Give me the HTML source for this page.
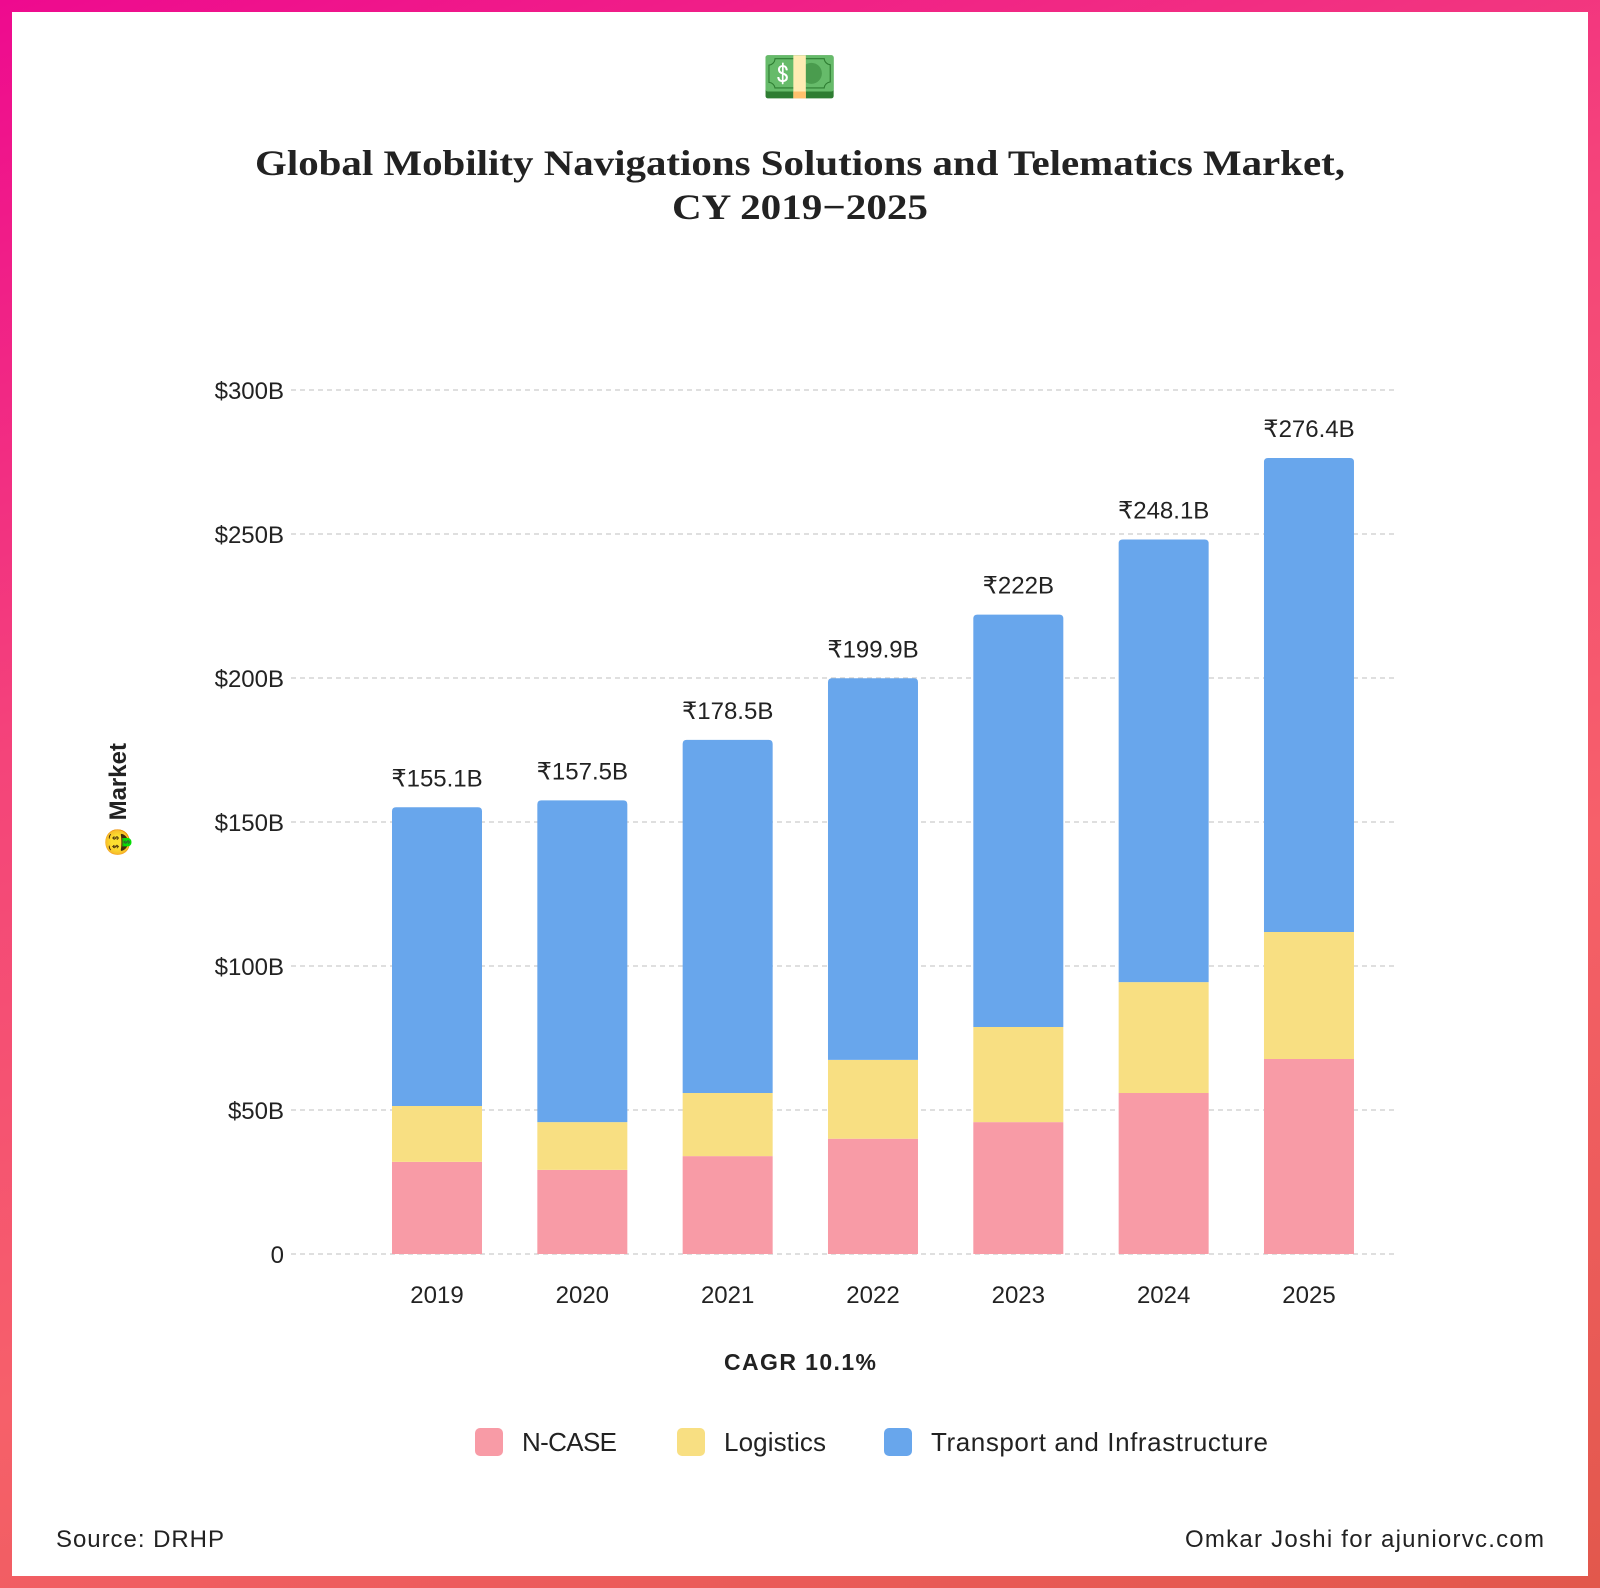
<!DOCTYPE html>
<html><head><meta charset="utf-8">
<style>
html,body{margin:0;padding:0}
body{width:1600px;height:1588px;background:linear-gradient(160deg,#ee0a8f 0%,#f4447a 35%,#f6606a 65%,#e2584c 100%);position:relative;font-family:"Liberation Sans",sans-serif;overflow:hidden}
#card{position:absolute;left:12px;top:12px;width:1576px;height:1564px;background:#fff}
svg{position:absolute;left:0;top:0}
</style></head><body>
<div id="card"></div>
<svg id="chart" width="1600" height="1588">
<text x="800" y="98" text-anchor="middle" font-size="62" font-family="sans-serif">💵</text>
<text x="800" y="175" text-anchor="middle" font-size="36" font-weight="bold" fill="#222" font-family="'Liberation Serif',serif" textLength="1090" lengthAdjust="spacingAndGlyphs">Global Mobility Navigations Solutions and Telematics Market,</text>
<text x="800" y="219" text-anchor="middle" font-size="36" font-weight="bold" fill="#222" font-family="'Liberation Serif',serif" textLength="256" lengthAdjust="spacingAndGlyphs">CY 2019−2025</text>
<g id="grid"></g><g id="bars"></g>
<g transform="translate(126,800) rotate(-90)"><text x="0" y="0" text-anchor="middle" font-size="24" font-weight="bold" fill="#222">🤑 Market</text></g>
<text x="800" y="1370" text-anchor="middle" font-size="23" font-weight="bold" fill="#222" textLength="152">CAGR 10.1%</text>
<g>
<rect x="475" y="1428" width="28" height="28" rx="5" fill="#f89ba6"/>
<text x="522" y="1451" font-size="26" fill="#222" textLength="95">N-CASE</text>
<rect x="677" y="1428" width="28" height="28" rx="5" fill="#f8df82"/>
<text x="724" y="1451" font-size="26" fill="#222" textLength="102">Logistics</text>
<rect x="884" y="1428" width="28" height="28" rx="5" fill="#68a6ec"/>
<text x="931" y="1451" font-size="26" fill="#222" textLength="337">Transport and Infrastructure</text>
</g>
<text x="56" y="1547" font-size="24" fill="#222" textLength="168">Source: DRHP</text>
<text x="1185" y="1547" font-size="24" fill="#222" textLength="359">Omkar Joshi for ajuniorvc.com</text>
</svg>
<script>
const categories=["2019","2020","2021","2022","2023","2024","2025"];
const ncase=[32,29.2,34,40,45.8,55.9,67.7];
const logistics=[19.4,16.6,21.9,27.4,33,38.5,44.1];
const transport=[103.7,111.7,122.6,132.5,143.2,153.7,164.6];
const totals=["₹155.1B","₹157.5B","₹178.5B","₹199.9B","₹222B","₹248.1B","₹276.4B"];
const ticks=[0,50,100,150,200,250,300];
const tickLabels=["0","$50B","$100B","$150B","$200B","$250B","$300B"];
const NS="http://www.w3.org/2000/svg";
const y0=1254,pxPer=144/50;
const y=v=>y0-v*pxPer;
const xc=i=>437+i*145.33;
const bw=90;
const grid=document.getElementById('grid'),bars=document.getElementById('bars');
function mk(tag,attrs,parent){const e=document.createElementNS(NS,tag);for(const k in attrs)e.setAttribute(k,attrs[k]);parent.appendChild(e);return e;}
ticks.forEach((t,i)=>{
 const l=mk('line',{x1:291,x2:1395,y1:y(t),y2:y(t),stroke:'#ccc','stroke-width':1.3,'stroke-dasharray':'5,4'},grid);
 
 
 const tx=mk('text',{x:284,y:y(t)+9,'text-anchor':'end','font-size':24,fill:'#222'},grid);
 tx.textContent=tickLabels[i];
 
 
});
function seg(x,v0,v1,color,round){
 const top=y(v1),bot=y(v0),r=round?4:0;
 const d=`M${x},${bot} L${x},${top+r} Q${x},${top} ${x+r},${top} L${x+bw-r},${top} Q${x+bw},${top} ${x+bw},${top+r} L${x+bw},${bot} Z`;
 return mk('path',{d:d,fill:color},bars);
}
categories.forEach((c,i)=>{
 const x=xc(i)-bw/2;
 const a=seg(x,0,ncase[i],'#f89ba6',false);
 
 
 const b=seg(x,ncase[i],ncase[i]+logistics[i],'#f8df82',false);
 
 
 const tot=ncase[i]+logistics[i]+transport[i];
 const t=seg(x,ncase[i]+logistics[i],tot,'#68a6ec',true);
 
 
 const lb=mk('text',{x:xc(i),y:y(tot)-21,'text-anchor':'middle','font-size':24,fill:'#222'},bars);
 lb.textContent=totals[i];
 
 
 const xl=mk('text',{x:xc(i),y:1303,'text-anchor':'middle','font-size':24,fill:'#222'},bars);
 xl.textContent=c;
 
 
});
</script>
</body></html>
